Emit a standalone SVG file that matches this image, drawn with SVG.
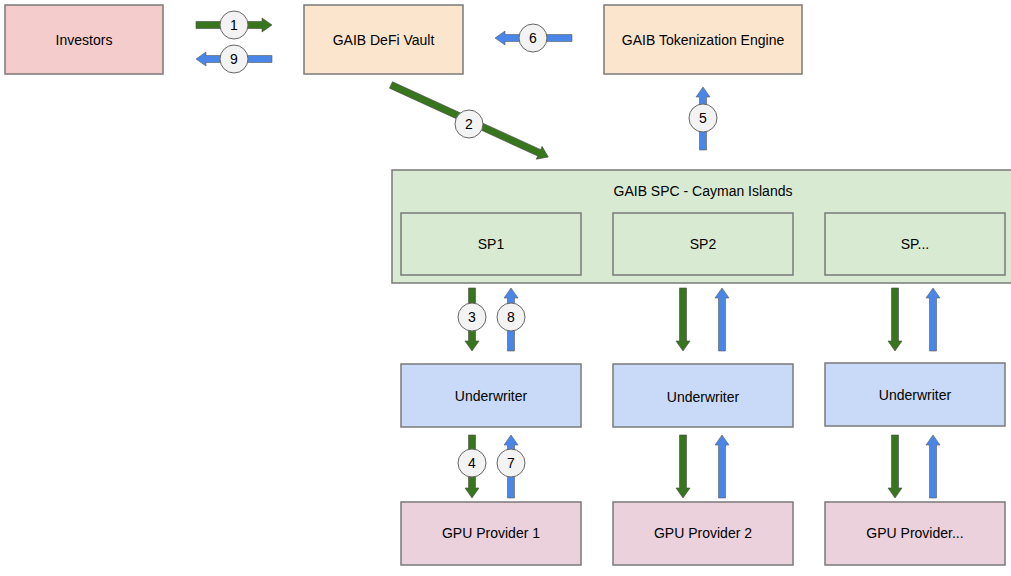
<svg xmlns="http://www.w3.org/2000/svg" width="1011" height="576" viewBox="0 0 1011 576">
<style>
  .box { stroke: #7a7a7a; stroke-width: 1.5; }
  .inv { fill: #f4cccc; }
  .org { fill: #fce5cd; }
  .spc { fill: #d9ead3; }
  .und { fill: #c9daf8; }
  .gpu { fill: #ead1dc; }
  .t { font-family: "Liberation Sans", Arial, sans-serif; font-size: 14px; fill: #000; text-anchor: middle; }
  .g { fill: #38761d; stroke: #4a4a4a; stroke-width: 0.6; }
  .b { fill: #4a86e8; stroke: #5a5a5a; stroke-width: 0.6; }
  .c { fill: #f3f3f3; stroke: #666; stroke-width: 1; }
</style>
<rect width="1011" height="576" fill="#ffffff"/>

<g id="investors"><rect class="box inv" x="5" y="5" width="158" height="69"/><text class="t" x="84" y="45">Investors</text></g>
<g id="vault"><rect class="box org" x="304" y="5" width="159" height="69"/><text class="t" x="383.5" y="45">GAIB DeFi Vault</text></g>
<g id="engine"><rect class="box org" x="604" y="5" width="198" height="69"/><text class="t" x="703" y="45">GAIB Tokenization Engine</text></g>

<g id="spc"><rect class="box spc" x="392" y="170" width="624" height="113"/><text class="t" x="703" y="196">GAIB SPC - Cayman Islands</text></g>
<g id="sp1"><rect class="box spc" x="401" y="213" width="180" height="62"/><text class="t" x="491" y="249">SP1</text></g>
<g id="sp2"><rect class="box spc" x="613" y="213" width="180" height="62"/><text class="t" x="703" y="249">SP2</text></g>
<g id="sp3"><rect class="box spc" x="825" y="213" width="180" height="62"/><text class="t" x="915" y="249">SP...</text></g>

<g id="uw1"><rect class="box und" x="401" y="364" width="180" height="63"/><text class="t" x="491" y="401">Underwriter</text></g>
<g id="uw2"><rect class="box und" x="613" y="364" width="180" height="63"/><text class="t" x="703" y="402">Underwriter</text></g>
<g id="uw3"><rect class="box und" x="825" y="363" width="180" height="63"/><text class="t" x="915" y="400">Underwriter</text></g>

<g id="gpu1"><rect class="box gpu" x="401" y="502" width="180" height="63"/><text class="t" x="491" y="538">GPU Provider 1</text></g>
<g id="gpu2"><rect class="box gpu" x="613" y="502" width="180" height="63"/><text class="t" x="703" y="538">GPU Provider 2</text></g>
<g id="gpu3"><rect class="box gpu" x="825" y="502" width="180" height="63"/><text class="t" x="915" y="538">GPU Provider...</text></g>

<g id="connectors">
  <!-- 1 -->
  <path class="g" d="M196 21.5 h66 v-3.5 l10 7 l-10 7 v-3.5 h-66 z"/>
  <!-- 9 -->
  <path class="b" d="M272 55.5 h-66 v-3.5 l-10 7 l10 7 v-3.5 h66 z"/>
  <!-- 6 -->
  <path class="b" d="M572 34.5 h-67 v-3.5 l-10 7 l10 7 v-3.5 h67 z"/>
  <!-- 2 -->
  <path class="g" transform="translate(391,85) rotate(24.6)" d="M0 -3.5 h163 v-3.5 l10 7 l-10 7 v-3.5 h-163 z"/>
  <!-- 5 -->
  <path class="b" d="M699.5 150 h7 v-53 h3.5 l-7 -10 l-7 10 h3.5 z"/>

  <!-- column 1 -->
  <path class="g" d="M468.5 288 h7 v53 h3.5 l-7 10 l-7 -10 h3.5 z"/>
  <path class="b" d="M507.5 351 h7 v-53 h3.5 l-7 -10 l-7 10 h3.5 z"/>
  <path class="g" d="M468.5 435 h7 v53 h3.5 l-7 10 l-7 -10 h3.5 z"/>
  <path class="b" d="M507.5 498 h7 v-53 h3.5 l-7 -10 l-7 10 h3.5 z"/>
  <!-- column 2 -->
  <path class="g" d="M679.5 288 h7 v53 h3.5 l-7 10 l-7 -10 h3.5 z"/>
  <path class="b" d="M718.5 351 h7 v-53 h3.5 l-7 -10 l-7 10 h3.5 z"/>
  <path class="g" d="M679.5 435 h7 v53 h3.5 l-7 10 l-7 -10 h3.5 z"/>
  <path class="b" d="M718.5 498 h7 v-53 h3.5 l-7 -10 l-7 10 h3.5 z"/>
  <!-- column 3 -->
  <path class="g" d="M891.5 288 h7 v53 h3.5 l-7 10 l-7 -10 h3.5 z"/>
  <path class="b" d="M929.5 351 h7 v-53 h3.5 l-7 -10 l-7 10 h3.5 z"/>
  <path class="g" d="M891.5 435 h7 v53 h3.5 l-7 10 l-7 -10 h3.5 z"/>
  <path class="b" d="M929.5 498 h7 v-53 h3.5 l-7 -10 l-7 10 h3.5 z"/>

  <!-- step labels -->
  <circle class="c" cx="234" cy="25" r="14"/><text class="t" x="234" y="30">1</text>
  <circle class="c" cx="234" cy="59" r="14"/><text class="t" x="234" y="64">9</text>
  <circle class="c" cx="533" cy="38" r="14"/><text class="t" x="533" y="43">6</text>
  <circle class="c" cx="469" cy="124" r="14"/><text class="t" x="469" y="129">2</text>
  <circle class="c" cx="703" cy="118" r="14"/><text class="t" x="703" y="123">5</text>
  <circle class="c" cx="472" cy="317" r="14"/><text class="t" x="472" y="322">3</text>
  <circle class="c" cx="511" cy="317" r="14"/><text class="t" x="511" y="322">8</text>
  <circle class="c" cx="472" cy="463" r="14"/><text class="t" x="472" y="468">4</text>
  <circle class="c" cx="511" cy="463" r="14"/><text class="t" x="511" y="468">7</text>
</g>
</svg>
